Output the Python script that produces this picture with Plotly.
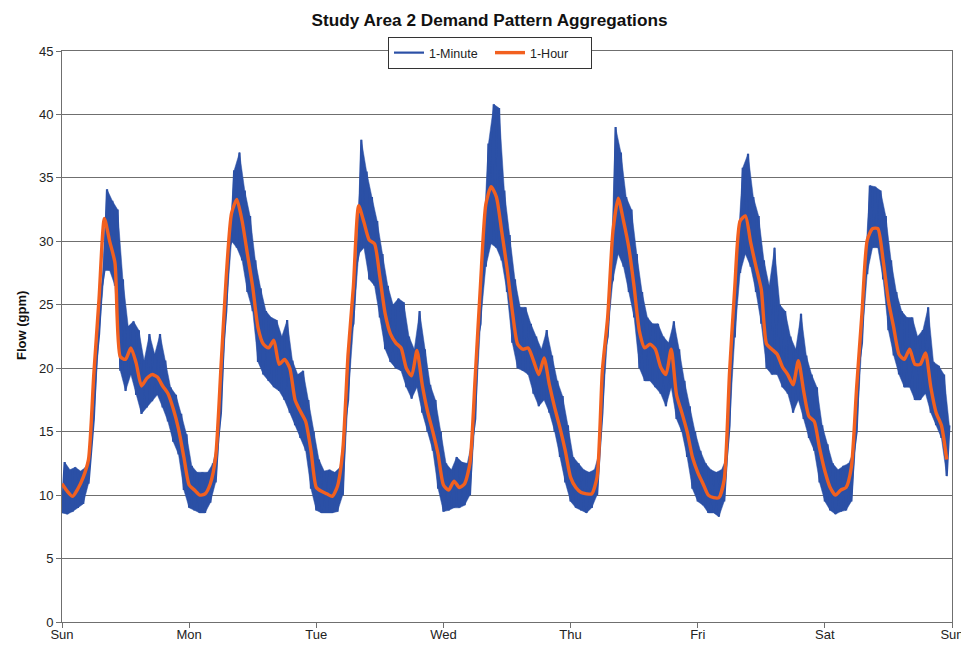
import plotly.graph_objects as go

# ---- categories / tick labels ----
day_labels = ["Sun", "Mon", "Tue", "Wed", "Thu", "Fri", "Sat", "Sun"]
y_ticks = [0, 5, 10, 15, 20, 25, 30, 35, 40, 45]

# ---- 1-Hour aggregation (gpm), hourly, Sun 00:00 .. Sat 23:00 ----
one_hour = [
    10.9, 10.3, 9.9, 10.5, 11.4, 12.8, 19.5, 25.5, 31.8, 30.0, 28.3, 20.9, 20.7, 21.6, 20.4, 18.6, 19.2, 19.5, 19.3, 18.6, 18.0, 16.8, 15.2, 13.0,  # Sun
    10.8, 10.4, 10.0, 10.1, 10.9, 13.0, 20.0, 27.2, 32.2, 33.3, 31.6, 29.0, 26.4, 23.2, 21.9, 21.6, 22.2, 20.3, 20.7, 20.0, 17.5, 16.6, 15.8, 13.5,  # Mon
    10.6, 10.3, 10.1, 9.9, 10.7, 13.5, 21.1, 26.4, 32.8, 31.5, 30.1, 29.8, 27.2, 24.3, 22.7, 22.0, 21.6, 20.0, 19.4, 21.4, 18.7, 16.6, 15.0, 13.2,  # Tue
    10.8, 10.4, 11.1, 10.6, 10.9, 12.5, 19.3, 26.6, 32.9, 34.3, 33.5, 30.8, 27.9, 24.5, 21.9, 21.5, 21.6, 20.6, 19.5, 20.8, 18.7, 16.9, 15.3, 13.5,  # Wed
    11.4, 10.6, 10.2, 10.1, 10.1, 11.4, 19.8, 24.0, 30.8, 33.4, 31.6, 29.5, 26.4, 22.9, 21.6, 21.9, 21.5, 20.1, 19.5, 21.5, 17.9, 16.5, 15.0, 13.0,  # Thu
    11.8, 10.9, 10.0, 9.8, 9.8, 11.2, 19.6, 26.4, 31.6, 32.0, 29.9, 28.0, 26.2, 21.9, 21.5, 21.1, 20.1, 19.5, 18.7, 20.6, 18.2, 16.2, 15.8, 13.7,  # Fri
    11.9, 10.6, 10.0, 10.4, 10.6, 12.2, 18.5, 24.3, 30.1, 31.0, 31.0, 28.5, 25.3, 23.2, 21.1, 20.7, 21.5, 20.3, 20.3, 21.2, 18.5, 16.5, 15.5, 12.8,  # Sat
]

# ---- 1-Minute series: hourly low / high envelope (gpm) ----
minute_low = [
    8.6, 8.5, 8.7, 9.0, 9.3, 10.9, 16.0, 22.7, 27.7, 27.7, 26.5, 19.8, 18.2, 19.5, 17.9, 16.4, 16.9, 17.4, 17.9, 16.9, 15.8, 14.2, 13.2, 10.4,  # Sun
    9.0, 8.8, 8.6, 8.6, 9.4, 11.0, 16.5, 24.5, 30.0, 29.5, 28.5, 26.0, 24.5, 20.5, 19.5, 19.0, 18.5, 18.2, 17.5, 16.5, 15.5, 14.5, 13.5, 10.5,  # Mon
    8.8, 8.6, 8.6, 8.6, 8.7, 10.0, 17.5, 23.5, 29.0, 29.5, 27.0, 26.5, 24.0, 21.5, 20.5, 20.0, 19.8, 18.5, 17.6, 18.5, 16.5, 15.0, 13.5, 10.5,  # Tue
    8.7, 8.8, 9.0, 9.0, 9.2, 10.0, 16.0, 23.5, 28.0, 29.8, 29.5, 28.5, 26.0, 22.0, 20.0, 19.8, 19.5, 18.0, 17.0, 17.5, 16.5, 15.0, 13.0, 11.0,  # Wed
    9.5, 9.0, 8.8, 8.6, 9.0, 10.0, 16.5, 22.5, 27.0, 29.0, 28.0, 26.0, 24.0, 20.0, 19.0, 19.0, 18.5, 18.0, 17.0, 18.5, 16.0, 15.0, 13.0, 10.5,  # Thu
    9.5, 9.2, 8.6, 8.6, 8.3, 9.5, 15.5, 22.5, 27.5, 29.0, 28.0, 26.0, 23.5, 20.0, 19.5, 19.5, 18.5, 18.0, 16.5, 17.5, 16.0, 14.5, 13.5, 11.0,  # Fri
    9.5, 8.8, 8.5, 8.7, 8.8, 9.5, 15.0, 22.0, 27.5, 29.5, 29.5, 27.0, 23.0, 21.0, 19.5, 18.5, 18.5, 17.5, 17.5, 18.0, 16.5, 15.5, 14.5, 11.5,  # Sat
]
minute_high = [
    12.6, 12.0, 12.2, 11.9, 12.2, 13.5, 20.6, 26.4, 34.1, 33.2, 32.5, 27.0, 23.3, 23.7, 23.0, 20.6, 22.7, 21.1, 22.7, 20.6, 18.5, 17.9, 16.4, 14.8,  # Sun
    12.3, 11.8, 11.8, 11.8, 12.5, 14.5, 22.0, 29.5, 35.6, 37.0, 34.0, 32.0, 28.5, 26.3, 24.5, 24.0, 23.8, 22.5, 23.8, 20.6, 19.5, 19.8, 17.5, 15.0,  # Mon
    12.8, 11.9, 12.0, 11.8, 12.2, 16.0, 23.0, 28.0, 38.0, 35.5, 33.5, 31.6, 29.0, 26.5, 25.0, 25.5, 25.2, 22.5, 21.5, 24.5, 21.5, 18.7, 17.5, 15.0,  # Tue
    12.5, 12.0, 13.0, 12.6, 12.5, 14.5, 22.5, 30.0, 37.7, 40.8, 40.5, 34.0, 30.5, 27.0, 24.8, 24.8, 23.5, 22.5, 21.5, 23.0, 21.0, 19.0, 17.8, 15.5,  # Wed
    13.0, 12.5, 12.0, 11.8, 12.0, 13.5, 21.5, 26.5, 39.0, 37.0, 33.5, 32.5, 29.0, 26.0, 24.0, 23.5, 23.5, 22.5, 22.0, 23.7, 21.5, 19.0, 17.0, 15.0,  # Thu
    13.5, 12.5, 12.0, 11.8, 12.0, 13.0, 22.5, 29.0, 35.8, 36.9, 33.5, 32.0, 28.5, 26.5, 29.5, 25.0, 24.5, 22.5, 21.5, 24.3, 21.0, 19.5, 18.5, 15.5,  # Fri
    14.0, 12.5, 12.0, 12.3, 12.5, 13.5, 20.5, 27.5, 34.4, 34.3, 34.0, 32.0, 28.5, 26.0, 24.5, 24.0, 24.0, 22.5, 23.0, 24.8, 20.5, 20.2, 19.5, 15.5,  # Sat
]

HOURS_PER_DAY = 24

# x positions in days
hour_x = [h / HOURS_PER_DAY for h in range(len(one_hour))]
low_x = [h / HOURS_PER_DAY for h in range(len(minute_low))]
high_x = [(h + 0.5) / HOURS_PER_DAY for h in range(len(minute_high))]

minute_x, minute_y = [], []
for lx, lo, hx, hi in zip(low_x, minute_low, high_x, minute_high):
    minute_x += [lx, hx]
    minute_y += [lo, hi]

BLUE = "#2B50A6"
ORANGE = "#F2601F"
GRID = "#6f6f6f"
FONT = "Liberation Sans, Arial, sans-serif"

fig = go.Figure()
# envelope band of the 1-minute series (min..max)
fig.add_trace(go.Scatter(x=low_x + high_x[::-1], y=minute_low + minute_high[::-1],
                         mode="lines", fill="toself", fillcolor=BLUE,
                         line=dict(color=BLUE, width=0.5),
                         showlegend=False, hoverinfo="skip"))
fig.add_trace(go.Scatter(x=minute_x, y=minute_y, mode="lines", name="1-Minute",
                         line=dict(color=BLUE, width=2.2)))
fig.add_trace(go.Scatter(x=hour_x, y=one_hour, mode="lines", name="1-Hour",
                         line=dict(color=ORANGE, width=3.4, shape="spline", smoothing=0.6)))

fig.update_layout(
    template="none",
    width=961, height=645,
    margin=dict(l=62, r=9, t=51, b=23, autoexpand=False),
    paper_bgcolor="white", plot_bgcolor="white",
    font=dict(family=FONT, size=13, color="#222222"),
    title=dict(text="<b>Study Area 2 Demand Pattern Aggregations</b>",
               x=(489.5 - 62) / 890, xref="paper", xanchor="center",
               y=1 - 20 / 645, yanchor="middle",
               font=dict(family=FONT, size=17.2, color="#111111")),
    showlegend=True,
    legend=dict(orientation="h", x=(490 - 62) / 890, xanchor="center",
                y=1 + (51 - 37) / 571, yanchor="top",
                bgcolor="white", bordercolor="#333333", borderwidth=1,
                font=dict(family=FONT, size=12.5, color="#222222"),
                itemwidth=30, entrywidth=56, entrywidthmode="pixels",
                tracegroupgap=0),
    xaxis=dict(range=[0, 7], tickmode="array", tickvals=list(range(len(day_labels))),
               ticktext=day_labels, ticks="outside", ticklen=5, tickcolor=GRID,
               showline=True, linecolor=GRID, linewidth=1, mirror=True,
               showgrid=False, zeroline=False, automargin=False,
               ticklabelstandoff=-5, ticklabeloverflow="allow",
               tickfont=dict(family=FONT, size=13, color="#222222")),
    yaxis=dict(range=[0, 45], tickmode="array", tickvals=y_ticks,
               ticks="outside", ticklen=5, tickcolor=GRID,
               showline=True, linecolor=GRID, linewidth=1, mirror=True,
               showgrid=True, gridcolor=GRID, gridwidth=1,
               zeroline=False, automargin=False,
               tickfont=dict(family=FONT, size=13, color="#222222")),
    annotations=[dict(text="<b>Flow (gpm)</b>", textangle=-90,
                      xref="paper", yref="paper",
                      x=-(62 - 21) / 890, y=(622 - 326) / 571,
                      xanchor="center", yanchor="middle", showarrow=False,
                      font=dict(family=FONT, size=13, color="#111111"))],
)

fig.write_html("out.html")
